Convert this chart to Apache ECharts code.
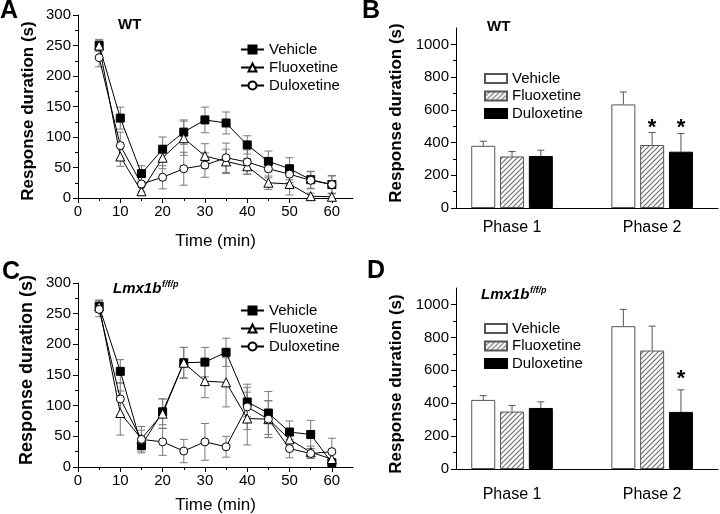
<!DOCTYPE html>
<html><head><meta charset="utf-8">
<script src="https://cdn.jsdelivr.net/npm/echarts@6/dist/echarts.min.js"></script>
<style>html,body{margin:0;padding:0;background:#fff}#c{width:720px;height:514px}</style>
</head><body><div id="c"></div>
<script>
// ---------- data ----------
const times = [5,10,15,20,25,30,35,40,45,50,55,60];
const timeTicks = [0,10,20,30,40,50,60];
const groupNames = ['Vehicle','Fluoxetine','Duloxetine'];

// Panel A (WT, time course)
const A_vehicle    = [250,131,40,80,108,128,123,87,60,48,30,22];
const A_vehicleErr = [10,18,13,20,20,21,18,15,17,18,14,15];
const A_fluox      = [250,68,11,66,98,69,60,52,25,23,3,2];
const A_fluoxErr   = [8,16,7,18,28,20,20,13,11,18,5,5];
const A_dulox      = [230,86,23,34,48,54,66,59,48,39,29,22];
const A_duloxErr   = [15,22,12,19,27,20,24,20,15,14,14,14];

// Panel C (Lmx1b f/f/p, time course)
const C_vehicle    = [262,156,35,90,170,171,187,106,88,57,53,7];
const C_vehicleErr = [10,19,12,21,25,24,23,24,35,18,23,5];
const C_fluox      = [262,88,46,87,170,140,138,79,78,45,24,13];
const C_fluoxErr   = [10,36,20,24,25,27,40,43,30,17,10,10];
const C_dulox      = [257,111,45,41,26,41,33,98,78,30,22,25];
const C_duloxErr   = [12,26,15,22,19,30,17,37,30,15,8,22];

// Panels B / D (phases)
const phases   = ['Phase 1','Phase 2'];
const phasePos = [1,2];
const B_vehicle = [380,633], B_vehicleErr = [28,76];
const B_fluox   = [315,385], B_fluoxErr   = [30,76];
const B_dulox   = [318,344], B_duloxErr   = [35,111];
const B_stars   = [[null,null],[null,533],[null,533]];
const D_vehicle = [420,868], D_vehicleErr = [26,102];
const D_fluox   = [349,720], D_fluoxErr   = [37,148];
const D_dulox   = [371,347], D_duloxErr   = [37,134];
const D_stars   = [[null,null],[null,null],[null,588]];

// ---------- styling ----------
const F = 'Liberation Sans, Arial, sans-serif';
const BW = 24, GAP = 0.2;

function hatch(){
  const c = document.createElement('canvas'); c.width = 5; c.height = 5;
  const g = c.getContext('2d');
  g.fillStyle = '#fff'; g.fillRect(0,0,5,5);
  g.strokeStyle = '#707070'; g.lineWidth = 1.2;
  g.beginPath();
  g.moveTo(0,5); g.lineTo(5,0);
  g.moveTo(-1,1); g.lineTo(1,-1);
  g.moveTo(4,6); g.lineTo(6,4);
  g.stroke();
  return c;
}
const hatchPattern = {image: hatch(), repeat: 'repeat'};

const lineLook = [
  {symbol:'rect', size:8, fill:'#000'},
  {symbol:'triangle', size:9, fill:'#fff'},
  {symbol:'circle', size:8, fill:'#fff'}
];
const barLook = [
  {color:'#fff', border:'#555'},
  {color:hatchPattern, border:'#555'},
  {color:'#000', border:'#000'}
];

function lineSeries(ai, prefix, vals, k){
  const L = lineLook[k];
  return {name: prefix+'|'+groupNames[k], type:'line', xAxisIndex:ai, yAxisIndex:ai,
    data: times.map((t,i)=>[t, vals[i]]), symbol:L.symbol, symbolSize:L.size, showSymbol:true,
    itemStyle:{color:L.fill, borderColor:'#000', borderWidth:1},
    lineStyle:{color:'#000', width:1}, z:3, animation:false};
}
function errLine(ai, vals, errs){
  return {type:'custom', xAxisIndex:ai, yAxisIndex:ai, z:2, silent:true, animation:false,
    data: times.map((t,i)=>[t, vals[i]-errs[i], vals[i]+errs[i]]),
    renderItem(p, api){
      const x = api.value(0);
      const lo = api.coord([x, api.value(1)]), hi = api.coord([x, api.value(2)]);
      const cw = 4, st = {stroke:'#7a7a7a', lineWidth:1};
      return {type:'group', children:[
        {type:'line', shape:{x1:lo[0],y1:lo[1],x2:hi[0],y2:hi[1]}, style:st},
        {type:'line', shape:{x1:hi[0]-cw,y1:hi[1],x2:hi[0]+cw,y2:hi[1]}, style:st},
        {type:'line', shape:{x1:lo[0]-cw,y1:lo[1],x2:lo[0]+cw,y2:lo[1]}, style:st}
      ]};
    }};
}
function barSeries(ai, prefix, vals, k){
  const B = barLook[k];
  return {name: prefix+'|'+groupNames[k], type:'bar', xAxisIndex:ai, yAxisIndex:ai,
    data: phasePos.map((p,i)=>[p, vals[i]]), barWidth:BW, barGap:(GAP*100)+'%',
    itemStyle:{color:B.color, borderColor:B.border, borderWidth:1}, z:2, animation:false};
}
function errBar(ai, vals, errs, k){
  const off = (k-1)*BW*(1+GAP);
  return {type:'custom', xAxisIndex:ai, yAxisIndex:ai, z:1, silent:true, animation:false,
    data: phasePos.map((p,i)=>[p, vals[i], vals[i]+errs[i]]),
    renderItem(p, api){
      const x = api.value(0);
      const lo = api.coord([x, api.value(1)]), hi = api.coord([x, api.value(2)]);
      const cx = lo[0]+off, cw = 3.5, st = {stroke:'#555', lineWidth:1};
      return {type:'group', children:[
        {type:'line', shape:{x1:cx,y1:lo[1],x2:cx,y2:hi[1]}, style:st},
        {type:'line', shape:{x1:cx-cw,y1:hi[1],x2:cx+cw,y2:hi[1]}, style:st}
      ]};
    }};
}
function starSeries(ai, starVals, k){
  const off = (k-1)*BW*(1+GAP);
  return {type:'custom', xAxisIndex:ai, yAxisIndex:ai, z:4, silent:true, animation:false,
    data: phasePos.map((p,i)=>[p, starVals[i]]).filter(d=>d[1]!=null),
    renderItem(p, api){
      const c = api.coord([api.value(0), api.value(1)]);
      return {type:'text', x:c[0]+off, y:c[1]+7,
        style:{text:'*', fontSize:22, fontWeight:'bold', fontFamily:F, fill:'#000', align:'center', verticalAlign:'middle'}};
    }};
}

// ---------- axes ----------
const axisLineS = {show:true, lineStyle:{color:'#000', width:1}};
function yName(size, gap, pad){
  return {name:'Response duration (s)', nameLocation:'middle', nameGap:gap,
    nameTextStyle:{color:'#000', fontSize:size, fontWeight:'bold', fontFamily:F, padding:pad}};
}
function timeXAxis(gi, gap){
  return {type:'value', gridIndex:gi, min:0, max:65, interval:10,
    axisLine:axisLineS,
    axisTick:{show:true, length:5, lineStyle:{color:'#000'}, customValues:timeTicks},
    minorTick:{show:true, splitNumber:2, length:3, lineStyle:{color:'#000'}},
    axisLabel:{color:'#000', fontSize:15, fontFamily:F, margin:6, customValues:timeTicks},
    splitLine:{show:false}, minorSplitLine:{show:false},
    name:'Time (min)', nameLocation:'middle', nameGap:gap,
    nameTextStyle:{color:'#000', fontSize:17, fontFamily:F}};
}
function timeYAxis(gi, nm){
  return Object.assign({type:'value', gridIndex:gi, min:0, max:300, interval:50,
    axisLine:axisLineS,
    axisTick:{show:true, length:5, lineStyle:{color:'#000'}},
    minorTick:{show:true, splitNumber:2, length:3, lineStyle:{color:'#000'}},
    axisLabel:{color:'#000', fontSize:15, fontFamily:F, margin:7, formatter:v=>String(v)},
    splitLine:{show:false}}, nm);
}
const barYTicks = [0,200,400,600,800,1000];
function barYAxis(gi, nm){
  return Object.assign({type:'value', gridIndex:gi, min:0, max:1100, interval:200,
    axisLine:axisLineS,
    axisTick:{show:true, length:5, lineStyle:{color:'#000'}, customValues:barYTicks},
    minorTick:{show:true, splitNumber:2, length:3, lineStyle:{color:'#000'}},
    axisLabel:{color:'#000', fontSize:15, fontFamily:F, margin:7, customValues:barYTicks, formatter:v=>String(v)},
    splitLine:{show:false}}, nm);
}
function barXAxis(gi, margin){
  return {type:'value', gridIndex:gi, min:0.6, max:2.47, interval:0.2,
    axisLine:axisLineS, axisTick:{show:false},
    axisLabel:{color:'#000', fontSize:16, fontFamily:F, margin:margin,
      formatter:v=>{ for(let i=0;i<phasePos.length;i++){ if(Math.abs(v-phasePos[i])<1e-6) return phases[i]; } return ''; }},
    splitLine:{show:false}};
}

function legend(prefix, left, top, isBar){
  return {data: groupNames.map(n=>prefix+'|'+n), formatter:n=>n.split('|')[1],
    orient:'vertical', left:left, top:top, padding:0,
    itemWidth: isBar?22:23, itemHeight: isBar?9:10, itemGap: isBar?2.5:3,
    icon: isBar?'rect':undefined, selectedMode:false,
    textStyle:{color:'#000', fontSize:15, fontFamily:F}};
}

const series = [
  errLine(0, A_vehicle, A_vehicleErr), errLine(0, A_fluox, A_fluoxErr), errLine(0, A_dulox, A_duloxErr),
  lineSeries(0,'A',A_vehicle,0), lineSeries(0,'A',A_fluox,1), lineSeries(0,'A',A_dulox,2),
  barSeries(1,'B',B_vehicle,0), barSeries(1,'B',B_fluox,1), barSeries(1,'B',B_dulox,2),
  errBar(1,B_vehicle,B_vehicleErr,0), errBar(1,B_fluox,B_fluoxErr,1), errBar(1,B_dulox,B_duloxErr,2),
  starSeries(1,B_stars[1],1), starSeries(1,B_stars[2],2),
  errLine(2, C_vehicle, C_vehicleErr), errLine(2, C_fluox, C_fluoxErr), errLine(2, C_dulox, C_duloxErr),
  lineSeries(2,'C',C_vehicle,0), lineSeries(2,'C',C_fluox,1), lineSeries(2,'C',C_dulox,2),
  barSeries(3,'D',D_vehicle,0), barSeries(3,'D',D_fluox,1), barSeries(3,'D',D_dulox,2),
  errBar(3,D_vehicle,D_vehicleErr,0), errBar(3,D_fluox,D_fluoxErr,1), errBar(3,D_dulox,D_duloxErr,2),
  starSeries(3,D_stars[2],2)
];

function label(text, x, y, size, extra){
  return {type:'text', x:x, y:y, silent:true,
    style:Object.assign({text:text, fill:'#000', fontFamily:F, fontSize:size, fontWeight:'bold', align:'left', verticalAlign:'middle'}, extra||{})};
}

const gridBase = {containLabel:false, outerBoundsMode:'none'};
const option = {
  animation:false,
  backgroundColor:'#fff',
  grid:[
    Object.assign({left:78, top:15, width:275, height:183}, gridBase),
    Object.assign({left:456, top:28, width:262, height:180}, gridBase),
    Object.assign({left:78, top:283, width:275, height:184}, gridBase),
    Object.assign({left:456, top:288, width:262, height:181}, gridBase)
  ],
  xAxis:[timeXAxis(0, 35), barXAxis(1, 12), timeXAxis(2, 30), barXAxis(3, 18)],
  yAxis:[
    timeYAxis(0, yName(17, 41.5, [0,9,0,0])),
    barYAxis(1, yName(17, 51.5, [0,0,0,10])),
    timeYAxis(2, yName(18, 41.5, [0,0,0,10])),
    barYAxis(3, yName(17, 51, [0,11,0,0]))
  ],
  legend:[legend('A',240,42,false), legend('B',484,71,true), legend('C',240,303,false), legend('D',484,321,true)],
  graphic:[
    label('A', 0, 11, 25), label('B', 362, 11, 25), label('C', 2, 272, 25), label('D', 367, 271, 25),
    label('WT', 118, 25, 15), label('WT', 487, 27, 15),
    label('Lmx1b', 113, 289, 15, {fontStyle:'italic'}), label('f/f/p', 162, 285, 9, {fontStyle:'italic'}),
    label('Lmx1b', 481, 295, 15, {fontStyle:'italic'}), label('f/f/p', 530, 291, 9, {fontStyle:'italic'})
  ],
  series: series
};
const chart = echarts.init(document.getElementById('c'), null, {renderer:'canvas'});
chart.setOption(option);
</script>
</body></html>
